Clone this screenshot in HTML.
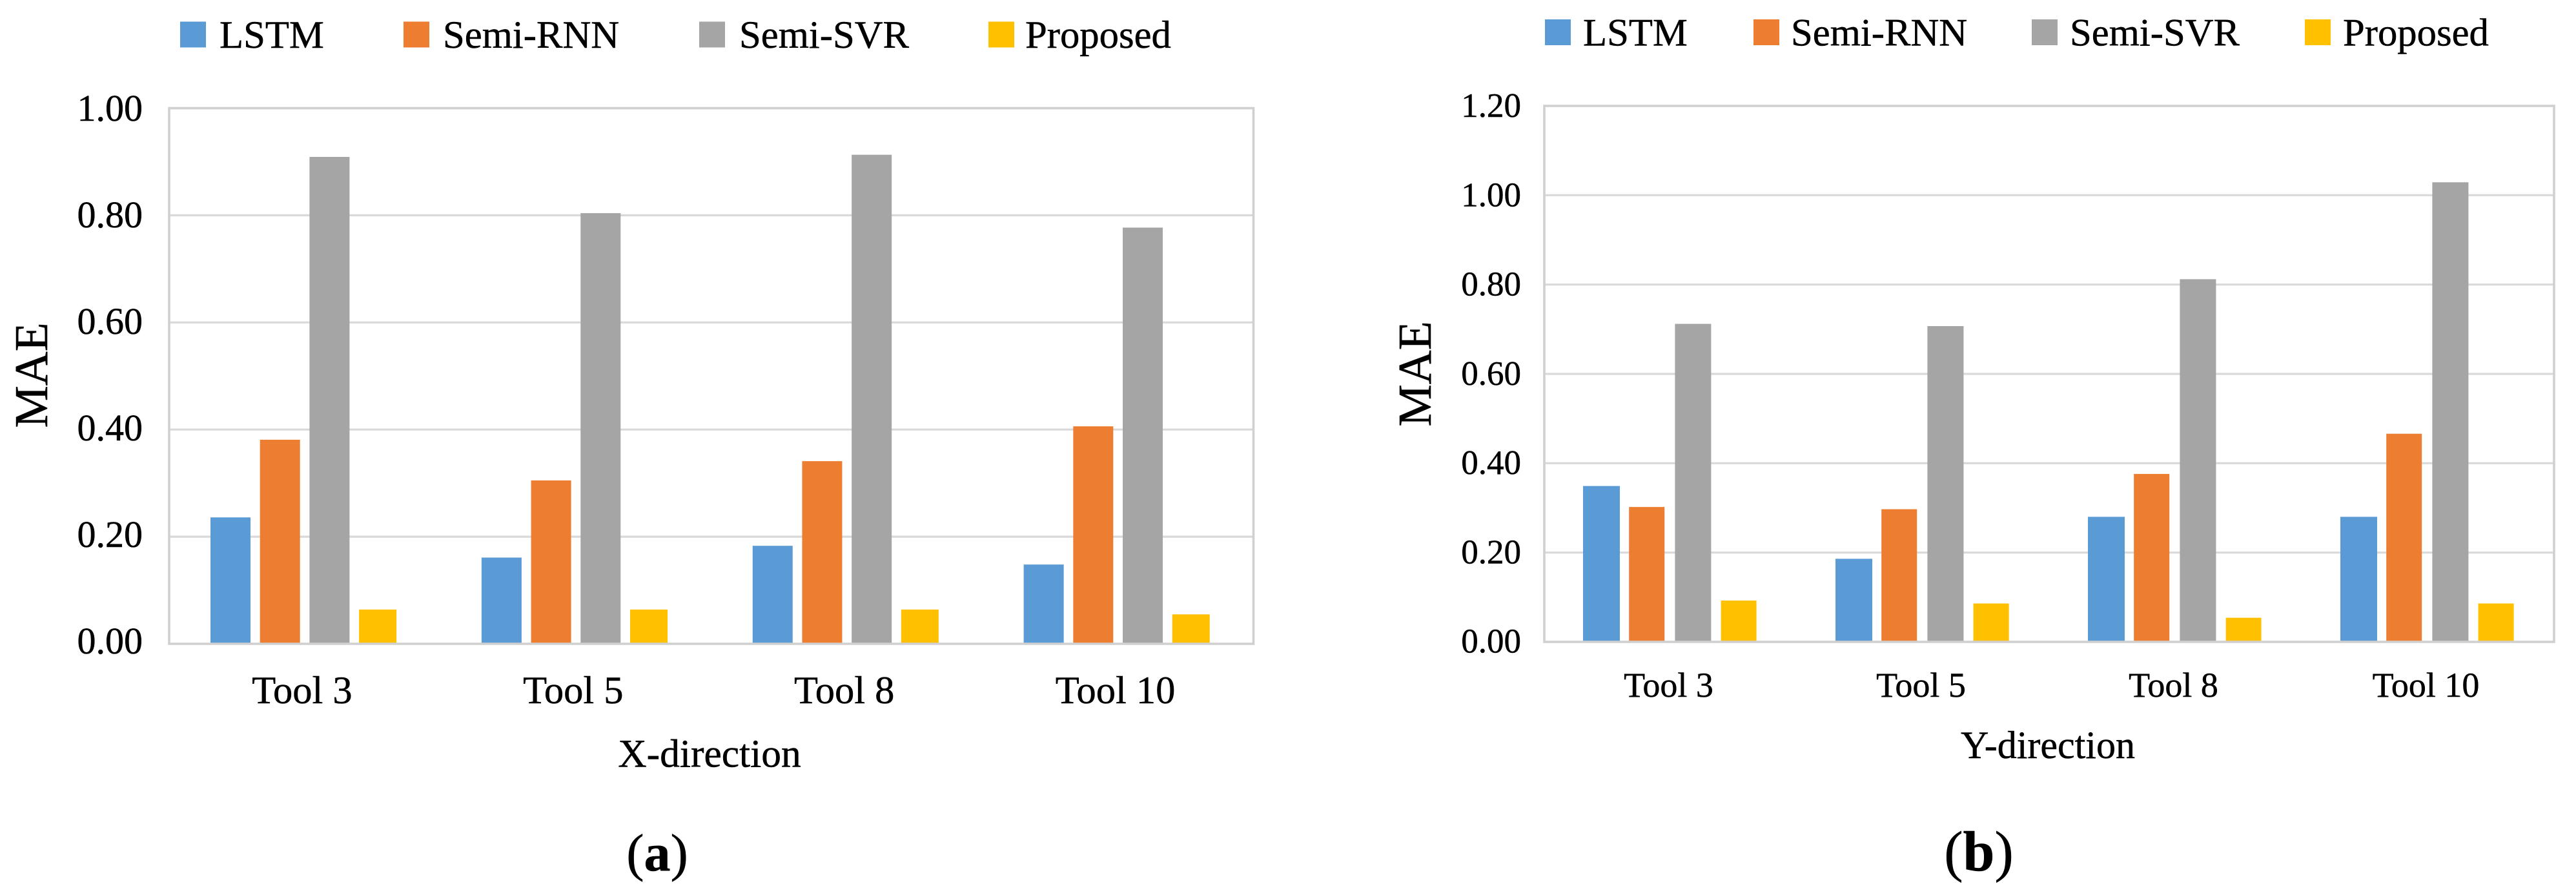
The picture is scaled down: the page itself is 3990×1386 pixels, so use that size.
<!DOCTYPE html>
<html lang="en">
<head>
<meta charset="utf-8">
<title>MAE comparison of LSTM, Semi-RNN, Semi-SVR and Proposed</title>
<style>
html,body{margin:0;padding:0;background:#fff;width:3990px;height:1386px;overflow:hidden}
svg{display:block}
text{font-family:"Liberation Serif","Times New Roman",serif;fill:#000;stroke:#000;stroke-width:.5px}
</style>
</head>
<body>
<svg id="figure" xmlns="http://www.w3.org/2000/svg" width="3990" height="1386" viewBox="0 0 3990 1386"></svg>
<script>
const categories = ['Tool 3', 'Tool 5', 'Tool 8', 'Tool 10'];
const seriesNames = ['LSTM', 'Semi-RNN', 'Semi-SVR', 'Proposed'];

const xLstm = [0.236, 0.161, 0.183, 0.148];
const xSemiRnn = [0.381, 0.305, 0.341, 0.406];
const xSemiSvr = [0.909, 0.804, 0.913, 0.777];
const xProposed = [0.064, 0.064, 0.064, 0.055];
const xTickLabels = ['0.00', '0.20', '0.40', '0.60', '0.80', '1.00'];

const yLstm = [0.349, 0.186, 0.280, 0.280];
const ySemiRnn = [0.302, 0.297, 0.376, 0.466];
const ySemiSvr = [0.712, 0.707, 0.812, 1.029];
const yProposed = [0.0925, 0.086, 0.054, 0.086];
const yTickLabels = ['0.00', '0.20', '0.40', '0.60', '0.80', '1.00', '1.20'];

const SVG_NS = 'http://www.w3.org/2000/svg';
const fills = ['#5B9BD5', '#ED7D31', '#A5A5A5', '#FFC000'];
const figure = document.getElementById('figure');

function shape(parent, tag, props, content) {
  const node = document.createElementNS(SVG_NS, tag);
  for (const key in props) node.setAttribute(key, props[key]);
  if (content !== undefined) node.textContent = content;
  parent.appendChild(node);
  return node;
}

function drawChart(c) {
  const chart = shape(figure, 'g', {});
  
  

  const maxValue = parseFloat(c.ticks[c.ticks.length - 1]);
  const yScale = v => c.bottom - (v / maxValue) * (c.bottom - c.top);
  const tickBaseline = v => c.tickBase0 - (v / maxValue) * (c.tickBase0 - c.tickBaseTop);
  const bandWidth = (c.right - c.left) / c.categories.length;
  const barLeft = (g, s) => c.left + c.groupOffset + g * bandWidth + s * c.barStep;
  const bandCenter = g => c.left + (g + 0.5) * bandWidth + c.labelShift;

  c.ticks.forEach(label => {
    const v = parseFloat(label);
    if (v > 0 && v < maxValue) {
      const gridline = shape(chart, 'line', {x1: c.left, x2: c.right, y1: yScale(v), y2: yScale(v), stroke: '#d9d9d9', 'stroke-width': 3.2});
      
      
    }
    const tick = shape(chart, 'text', {x: c.tickRight, y: tickBaseline(v), 'text-anchor': 'end', 'font-size': c.tickSize}, label);
    
    
  });

  c.series.forEach((values, s) => {
    values.forEach((value, g) => {
      const bar = shape(chart, 'rect', {
        x: barLeft(g, s),
        y: yScale(value),
        width: c.barWidths[s],
        height: c.bottom - yScale(value),
        fill: fills[s]
      });
      
      
    });
  });

  const frame = shape(chart, 'rect', {x: c.left, y: c.top, width: c.right - c.left, height: c.bottom - c.top, fill: 'none', stroke: '#d0d0d0', 'stroke-width': 3.6});
  
  

  c.categories.forEach((name, g) => {
    const label = shape(chart, 'text', {x: bandCenter(g), y: c.catBaseline, 'text-anchor': 'middle', 'font-size': c.catSize}, name);
    
    
  });

  seriesNames.forEach((name, s) => {
    const swatch = shape(chart, 'rect', {x: c.legendSwatchX[s], y: c.legendTop, width: 40, height: 40, fill: fills[s]});
    
    
    const entry = shape(chart, 'text', {x: c.legendTextX[s], y: c.legendBaseline, 'font-size': 60.7}, name);
    
    
  });

  const yTitle = shape(chart, 'text', {
    x: 0, y: 0, 'text-anchor': 'middle', 'font-size': 73.5,
    transform: 'translate(' + c.yTitleX + ' ' + c.yTitleY + ') rotate(-90)'
  }, 'MAE');
  
  

  const xTitle = shape(chart, 'text', {x: c.xTitleX, y: c.xTitleY, 'text-anchor': 'middle', 'font-size': c.xTitleSize}, c.xTitle);
  
  

  const caption = shape(chart, 'text', {x: c.captionX, y: 1348, 'text-anchor': 'middle', 'font-size': c.captionSize});
  
  
  shape(caption, 'tspan', {}, '(');
  shape(caption, 'tspan', {'font-weight': 'bold'}, c.captionLetter);
  shape(caption, 'tspan', {}, ')');
}

drawChart({
  id: 'chart-x-direction',
  categories: categories,
  series: [xLstm, xSemiRnn, xSemiSvr, xProposed],
  ticks: xTickLabels,
  left: 262, right: 1941.5, top: 167.5, bottom: 997,
  groupOffset: 64, barStep: 76.7, barWidths: [62, 62, 62, 58], labelShift: -4,
  tickRight: 221, tickSize: 58, tickBase0: 1012, tickBaseTop: 187,
  catBaseline: 1089, catSize: 60.5,
  legendSwatchX: [279, 625, 1083, 1531], legendTextX: [340, 686, 1145, 1588],
  legendTop: 33.5, legendBaseline: 74,
  yTitleX: 73, yTitleY: 581,
  xTitle: 'X-direction', xTitleX: 1099, xTitleY: 1187.5, xTitleSize: 61.5,
  captionX: 1018, captionSize: 82, captionLetter: 'a'
});

drawChart({
  id: 'chart-y-direction',
  categories: categories,
  series: [yLstm, ySemiRnn, ySemiSvr, yProposed],
  ticks: yTickLabels,
  left: 2392, right: 3956, top: 164, bottom: 994,
  groupOffset: 60, barStep: 71.2, barWidths: [57, 55, 56, 55], labelShift: -3,
  tickRight: 2356, tickSize: 53, tickBase0: 1010.5, tickBaseTop: 181,
  catBaseline: 1079, catSize: 54,
  legendSwatchX: [2393, 2716, 3147, 3570], legendTextX: [2452, 2774, 3206, 3629],
  legendTop: 30, legendBaseline: 70.5,
  yTitleX: 2216, yTitleY: 579,
  xTitle: 'Y-direction', xTitleX: 3172, xTitleY: 1174, xTitleSize: 60,
  captionX: 3065, captionSize: 88, captionLetter: 'b'
});
</script>
</body>
</html>
